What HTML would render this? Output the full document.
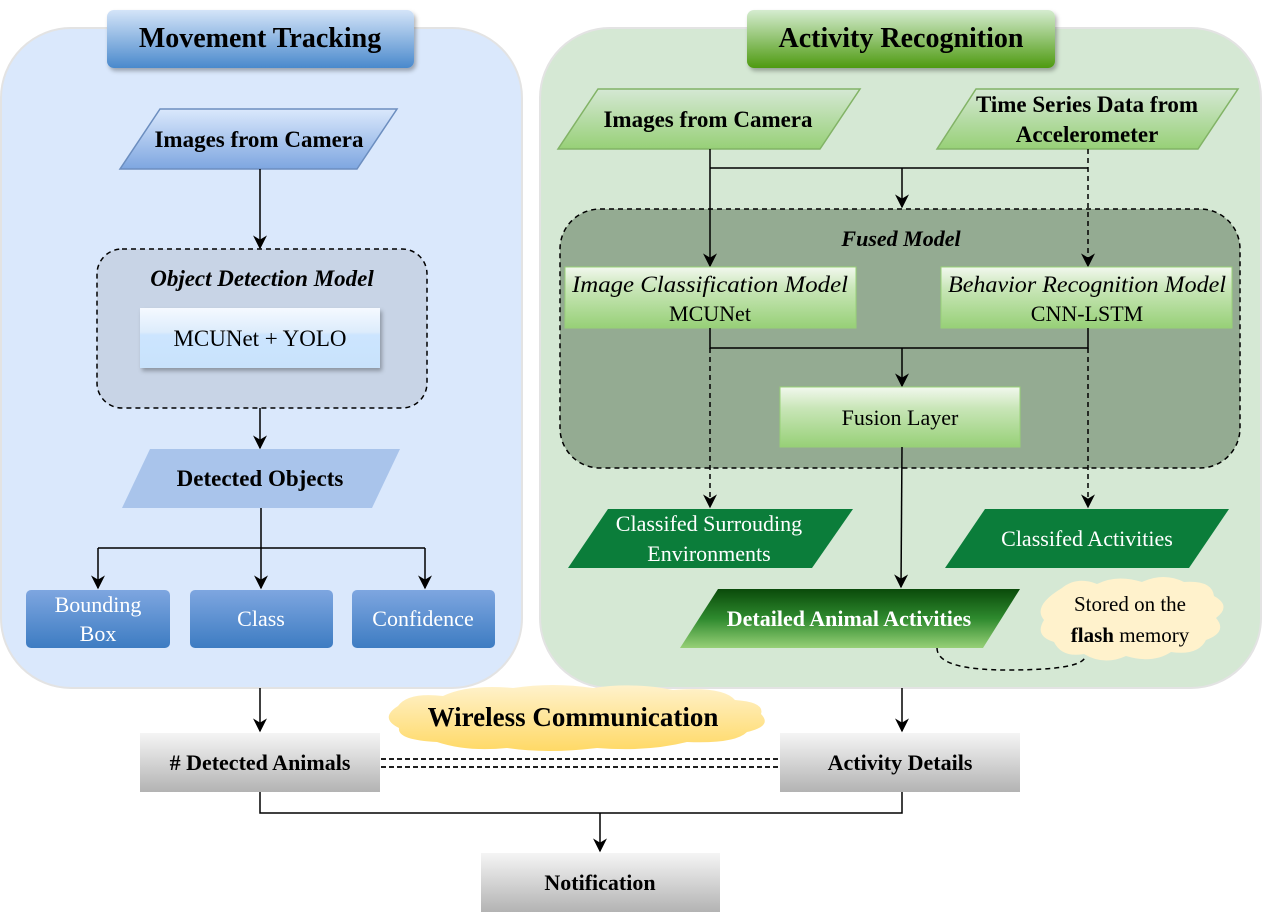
<!DOCTYPE html>
<html><head><meta charset="utf-8"><style>
html,body{margin:0;padding:0;background:#fff;}
svg{display:block;font-family:"Liberation Serif",serif;}
</style></head><body>
<svg width="1262" height="914" viewBox="0 0 1262 914" xmlns="http://www.w3.org/2000/svg">
<defs>
<linearGradient id="gBlueT" x1="0" y1="0" x2="0" y2="1"><stop offset="0" stop-color="#d4e4f8"/><stop offset="1" stop-color="#4a89cc"/></linearGradient>
<linearGradient id="gGreenT" x1="0" y1="0" x2="0" y2="1"><stop offset="0" stop-color="#d5ecd0"/><stop offset="1" stop-color="#4e9a10"/></linearGradient>
<linearGradient id="gBluePara" x1="0" y1="0" x2="0" y2="1"><stop offset="0" stop-color="#dae8fc"/><stop offset="1" stop-color="#7ea6e0"/></linearGradient>
<linearGradient id="gGreenPara" x1="0" y1="0" x2="0" y2="1"><stop offset="0" stop-color="#d5e8d4"/><stop offset="1" stop-color="#97d077"/></linearGradient>
<linearGradient id="gBlueBox" x1="0" y1="0" x2="0" y2="1"><stop offset="0" stop-color="#7ea6e0"/><stop offset="1" stop-color="#3d7cc2"/></linearGradient>
<linearGradient id="gMcu" x1="0" y1="0" x2="0" y2="1"><stop offset="0" stop-color="#f5f9ff"/><stop offset="0.4" stop-color="#dcecfc"/><stop offset="0.45" stop-color="#cce5ff"/><stop offset="1" stop-color="#c8e2fb"/></linearGradient>
<linearGradient id="gGbox" x1="0" y1="0" x2="0" y2="1"><stop offset="0" stop-color="#f2f8ee"/><stop offset="0.35" stop-color="#c9e6b8"/><stop offset="1" stop-color="#97d077"/></linearGradient>
<linearGradient id="gDetail" x1="0" y1="0" x2="0" y2="1"><stop offset="0" stop-color="#0a4a0a"/><stop offset="0.5" stop-color="#2e8a2e"/><stop offset="1" stop-color="#97d077"/></linearGradient>
<linearGradient id="gGray" x1="0" y1="0" x2="0" y2="1"><stop offset="0" stop-color="#f5f5f5"/><stop offset="1" stop-color="#b3b3b3"/></linearGradient>
<linearGradient id="gYel" x1="0" y1="0" x2="0" y2="1"><stop offset="0" stop-color="#fff2cc"/><stop offset="1" stop-color="#ffd966"/></linearGradient>
<marker id="ar" viewBox="0 0 10 10" refX="9" refY="5" markerWidth="14" markerHeight="14" markerUnits="userSpaceOnUse" orient="auto"><path d="M0,0 L10,5 L0,10 L3,5 z" fill="#000"/></marker>
<filter id="sh" x="-10%" y="-20%" width="130%" height="150%"><feDropShadow dx="2" dy="3" stdDeviation="2" flood-color="#000" flood-opacity="0.3"/></filter>
</defs>

<!-- Panels -->
<rect x="1" y="28" width="521" height="660" rx="70" fill="#dae8fc" stroke="#e3e3e3" stroke-width="2"/>
<rect x="540" y="28" width="721" height="660" rx="70" fill="#d5e8d4" stroke="#e3e3e3" stroke-width="2"/>

<!-- Titles -->
<rect x="107" y="10" width="307" height="58" rx="7" fill="url(#gBlueT)" filter="url(#sh)"/>
<text x="260" y="47" text-anchor="middle" font-size="28" font-weight="bold">Movement Tracking</text>
<rect x="747" y="10" width="308" height="58" rx="7" fill="url(#gGreenT)" filter="url(#sh)"/>
<text x="901" y="47" text-anchor="middle" font-size="28" font-weight="bold">Activity Recognition</text>

<!-- Left flow -->
<polygon points="160,109 397,109 357,169 120,169" fill="url(#gBluePara)" stroke="#6c8ebf" stroke-width="1.5"/>
<text x="259" y="147" text-anchor="middle" font-size="23" font-weight="bold">Images from Camera</text>
<line x1="260" y1="169" x2="260" y2="248" stroke="#000" stroke-width="1.5" marker-end="url(#ar)"/>
<rect x="97" y="249" width="330" height="159" rx="25" fill="#c8d4e6" stroke="#000" stroke-width="1.5" stroke-dasharray="5,4"/>
<text x="262" y="286" text-anchor="middle" font-size="23" font-weight="bold" font-style="italic">Object Detection Model</text>
<rect x="140" y="308" width="240" height="60" fill="url(#gMcu)" filter="url(#sh)"/>
<text x="260" y="346" text-anchor="middle" font-size="23">MCUNet + YOLO</text>
<line x1="260" y1="408" x2="260" y2="448" stroke="#000" stroke-width="1.5" marker-end="url(#ar)"/>
<polygon points="150,449 400,449 372,508 122,508" fill="#a9c4eb"/>
<text x="260" y="486" text-anchor="middle" font-size="23" font-weight="bold">Detected Objects</text>
<path d="M261,508 V548 M98,548 H425" stroke="#000" stroke-width="1.5" fill="none"/>
<line x1="98" y1="548" x2="98" y2="588" stroke="#000" stroke-width="1.5" marker-end="url(#ar)"/>
<line x1="261" y1="548" x2="261" y2="588" stroke="#000" stroke-width="1.5" marker-end="url(#ar)"/>
<line x1="425" y1="548" x2="425" y2="588" stroke="#000" stroke-width="1.5" marker-end="url(#ar)"/>
<rect x="26" y="590" width="144" height="58" rx="5" fill="url(#gBlueBox)"/>
<text x="98" y="612" text-anchor="middle" font-size="22" fill="#fff">Bounding</text>
<text x="98" y="641" text-anchor="middle" font-size="22" fill="#fff">Box</text>
<rect x="190" y="590" width="143" height="58" rx="5" fill="url(#gBlueBox)"/>
<text x="261" y="626" text-anchor="middle" font-size="22" fill="#fff">Class</text>
<rect x="352" y="590" width="143" height="58" rx="5" fill="url(#gBlueBox)"/>
<text x="423" y="626" text-anchor="middle" font-size="22" fill="#fff">Confidence</text>

<!-- Right flow -->
<polygon points="598,89 860,89 820,149 558,149" fill="url(#gGreenPara)" stroke="#82b366" stroke-width="1.5"/>
<text x="708" y="127" text-anchor="middle" font-size="23" font-weight="bold">Images from Camera</text>
<polygon points="976,89 1238,89 1198,149 937,149" fill="url(#gGreenPara)" stroke="#82b366" stroke-width="1.5"/>
<text x="1087" y="112" text-anchor="middle" font-size="23" font-weight="bold">Time Series Data from</text>
<text x="1087" y="142" text-anchor="middle" font-size="23" font-weight="bold">Accelerometer</text>

<rect x="560" y="209" width="680" height="259" rx="40" fill="#94ab92" stroke="#000" stroke-width="1.5" stroke-dasharray="5,4"/>
<text x="901" y="246" text-anchor="middle" font-size="22" font-weight="bold" font-style="italic">Fused Model</text>

<line x1="710" y1="149" x2="710" y2="266" stroke="#000" stroke-width="1.5" marker-end="url(#ar)"/>
<path d="M710,168 H1088" stroke="#000" stroke-width="1.5"/>
<line x1="902" y1="168" x2="902" y2="207" stroke="#000" stroke-width="1.5" marker-end="url(#ar)"/>
<line x1="1088" y1="149" x2="1088" y2="266" stroke="#000" stroke-width="1.5" stroke-dasharray="5,4" marker-end="url(#ar)"/>

<rect x="565" y="267" width="291" height="61" fill="url(#gGbox)" stroke="#97d077"/>
<text x="710" y="292" text-anchor="middle" font-size="23" font-style="italic" textLength="276" lengthAdjust="spacingAndGlyphs">Image Classification Model</text>
<text x="710" y="321" text-anchor="middle" font-size="22">MCUNet</text>
<rect x="941" y="267" width="291" height="61" fill="url(#gGbox)" stroke="#97d077"/>
<text x="1087" y="292" text-anchor="middle" font-size="23" font-style="italic" textLength="278" lengthAdjust="spacingAndGlyphs">Behavior Recognition Model</text>
<text x="1087" y="321" text-anchor="middle" font-size="22">CNN-LSTM</text>

<path d="M710,328 V348 H1088 V328" stroke="#000" stroke-width="1.5" fill="none"/>
<line x1="902" y1="348" x2="902" y2="386" stroke="#000" stroke-width="1.5" marker-end="url(#ar)"/>
<rect x="780" y="387" width="240" height="60" fill="url(#gGbox)" stroke="#97d077"/>
<text x="900" y="425" text-anchor="middle" font-size="22">Fusion Layer</text>

<line x1="710" y1="348" x2="710" y2="507" stroke="#000" stroke-width="1.5" stroke-dasharray="5,4" marker-end="url(#ar)"/>
<line x1="1088" y1="348" x2="1088" y2="507" stroke="#000" stroke-width="1.5" stroke-dasharray="5,4" marker-end="url(#ar)"/>
<line x1="902" y1="447" x2="901" y2="587" stroke="#000" stroke-width="1.5" marker-end="url(#ar)"/>

<polygon points="608,509 853,509 812,568 568,568" fill="#0b7d3a"/>
<text x="709" y="531" text-anchor="middle" font-size="22" fill="#fff">Classifed Surrouding</text>
<text x="709" y="561" text-anchor="middle" font-size="22" fill="#fff">Environments</text>
<polygon points="985,509 1229,509 1189,568 945,568" fill="#0b7d3a"/>
<text x="1087" y="546" text-anchor="middle" font-size="22" fill="#fff">Classifed Activities</text>

<polygon points="718,589 1020,589 983,648 680,648" fill="url(#gDetail)"/>
<text x="849" y="626" text-anchor="middle" font-size="22" font-weight="bold" fill="#fff">Detailed Animal Activities</text>

<path d="M1062,588 q15,-12 35,-4 q20,-10 45,-2 q22,-10 42,0 q28,-2 30,14 q18,10 2,22 q12,14 -10,22 q-8,16 -35,12 q-18,12 -45,4 q-22,10 -42,-2 q-22,4 -30,-12 q-20,-6 -10,-22 q-12,-14 18,-32 z" fill="#fff2cc"/>
<text x="1130" y="611" text-anchor="middle" font-size="21">Stored on the</text>
<text x="1130" y="642" text-anchor="middle" font-size="21"><tspan font-weight="bold">flash</tspan> memory</text>
<path d="M937,648 q0,22 70,22 q78,0 78,-14" stroke="#000" stroke-width="1.5" fill="none" stroke-dasharray="5,4"/>

<!-- Bottom -->
<line x1="260" y1="688" x2="260" y2="731" stroke="#000" stroke-width="1.5" marker-end="url(#ar)"/>
<line x1="902" y1="688" x2="902" y2="731" stroke="#000" stroke-width="1.5" marker-end="url(#ar)"/>
<path d="M398,706 q10,-14 45,-10 q25,-12 70,-8 q40,-6 80,0 q40,-6 80,2 q50,-4 62,10 q30,2 26,14 q12,12 -14,18 q-12,12 -60,10 q-40,10 -90,6 q-50,6 -90,0 q-40,4 -70,-6 q-40,-2 -38,-14 q-20,-10 -1,-22 z" fill="url(#gYel)"/>
<text x="573" y="726" text-anchor="middle" font-size="27" font-weight="bold">Wireless Communication</text>

<rect x="140" y="733" width="240" height="59" fill="url(#gGray)"/>
<text x="260" y="770" text-anchor="middle" font-size="22" font-weight="bold"># Detected Animals</text>
<rect x="780" y="733" width="240" height="59" fill="url(#gGray)"/>
<text x="900" y="770" text-anchor="middle" font-size="22" font-weight="bold">Activity Details</text>
<line x1="381" y1="759" x2="779" y2="759" stroke="#000" stroke-width="1.8" stroke-dasharray="5,3"/>
<line x1="381" y1="767" x2="779" y2="767" stroke="#000" stroke-width="1.8" stroke-dasharray="5,3"/>

<path d="M260,792 V813 H902 V792" stroke="#000" stroke-width="1.5" fill="none"/>
<line x1="600" y1="813" x2="600" y2="851" stroke="#000" stroke-width="1.5" marker-end="url(#ar)"/>
<rect x="481" y="853" width="239" height="59" fill="url(#gGray)"/>
<text x="600" y="890" text-anchor="middle" font-size="22" font-weight="bold">Notification</text>
</svg>
</body></html>
